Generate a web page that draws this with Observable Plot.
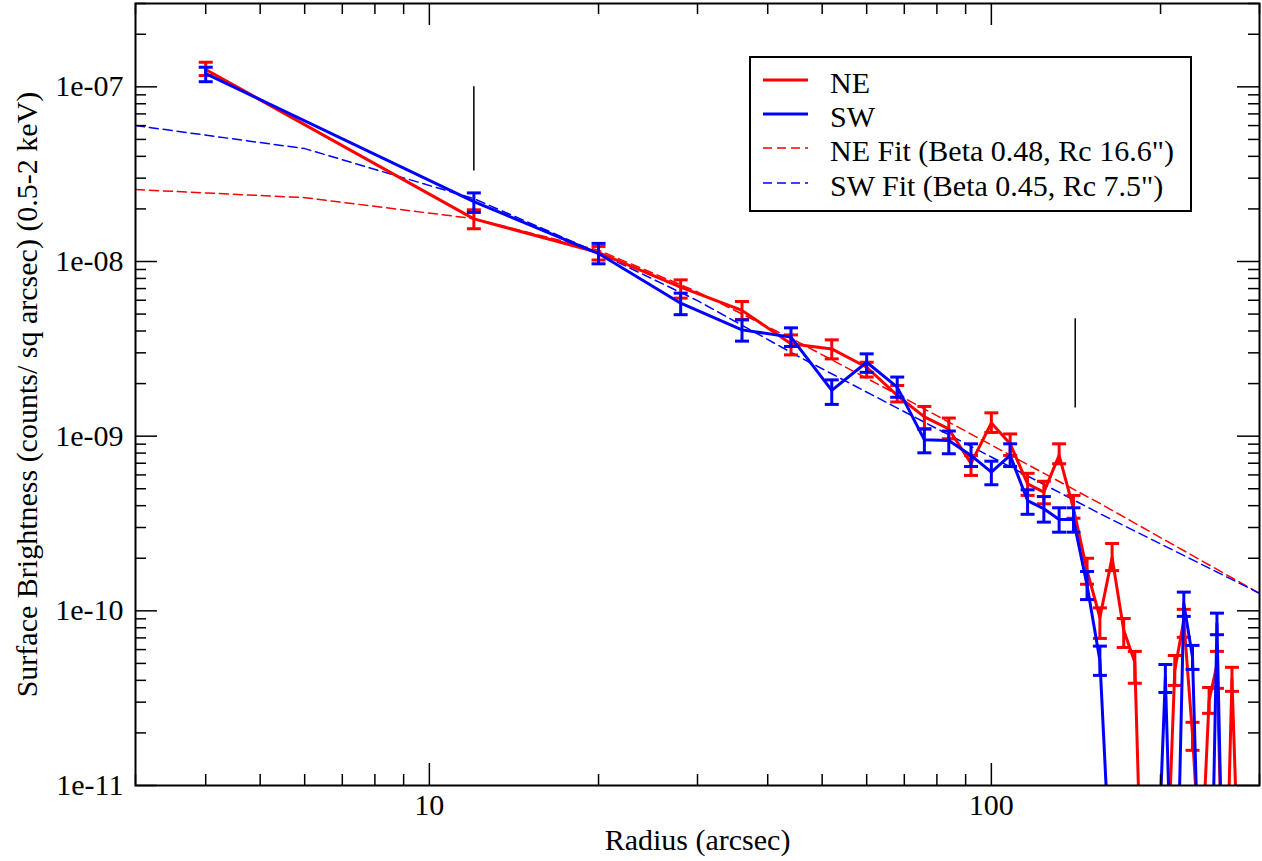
<!DOCTYPE html>
<html><head><meta charset="utf-8">
<script src="https://cdn.jsdelivr.net/npm/d3@7"></script>
<script src="https://cdn.jsdelivr.net/npm/@observablehq/plot@0.6"></script>
<style>body{margin:0;background:#fff}</style>
</head><body><div id="chart"></div>
<script>
// Radii (arcsec)
const radius = [4,12,20,28,36,44,52,60,68,76,84,92,100,108,116,124,132,140,148,156,164,172,180,188,196,204,212,220,228,236,244,252,260,268,276,284,292];

// NE profile (value, lower and upper error bar ends); tiny values are below the axis
const neValue = [1.256e-7,1.755e-8,1.125e-8,7.13e-9,5.25e-9,3.38e-9,3.16e-9,2.48e-9,1.71e-9,1.29e-9,1.10e-9,6.98e-10,1.19e-9,9.04e-10,5.33e-10,4.78e-10,7.76e-10,3.85e-10,1.70e-10,9.16e-11,2.02e-10,7.73e-11,5.07e-11,4e-13,1e-12,1.7e-12,4.56e-11,8.83e-11,1.94e-11,3e-12,3.07e-11,4.9e-11,1e-12,4.06e-11,2.3e-12,1e-12,1e-12];
const neLow   = [1.16e-7,1.54e-8,1.02e-8,6.17e-9,4.66e-9,2.92e-9,2.77e-9,2.18e-9,1.57e-9,1.10e-9,9.66e-10,5.96e-10,1.05e-9,7.76e-10,4.58e-10,4.10e-10,6.95e-10,3.39e-10,1.42e-10,6.95e-11,1.70e-10,6.17e-11,3.85e-11,null,null,null,3.74e-11,7.05e-11,1.59e-11,null,2.59e-11,3.6e-11,null,3.46e-11,null,null,null];
const neHigh  = [1.383e-7,1.977e-8,1.22e-8,7.85e-9,5.9e-9,3.8e-9,3.56e-9,2.65e-9,1.95e-9,1.48e-9,1.27e-9,7.76e-10,1.36e-9,1.03e-9,6.13e-10,5.52e-10,9.04e-10,4.58e-10,2.0e-10,1.04e-10,2.43e-10,9.04e-11,5.86e-11,null,null,null,5.55e-11,1.02e-10,2.30e-11,null,3.64e-11,5.86e-11,null,4.75e-11,null,null,null];

// SW profile
const swValue = [1.19e-7,2.20e-8,1.11e-8,5.77e-9,4.06e-9,3.69e-9,1.83e-9,2.65e-9,1.91e-9,9.53e-10,9.44e-10,7.76e-10,6.22e-10,7.76e-10,4.28e-10,3.84e-10,3.33e-10,3.33e-10,1.40e-10,5.2e-11,2e-12,1e-12,1e-12,1e-12,1.55e-12,4.16e-11,6e-13,1.10e-10,5.42e-11,1.1e-12,4e-13,8.47e-11,8e-13,1e-12,1e-12,1e-12,1e-12];
const swLow   = [1.07e-7,1.91e-8,9.7e-9,4.96e-9,3.5e-9,3.26e-9,1.52e-9,2.32e-9,1.67e-9,8.03e-10,7.93e-10,6.7e-10,5.27e-10,6.7e-10,3.57e-10,3.22e-10,2.82e-10,2.82e-10,1.16e-10,4.27e-11,null,null,null,null,null,3.41e-11,null,9.3e-11,4.62e-11,null,null,7.3e-11,null,null,null,null,null];
const swHigh  = [1.295e-7,2.47e-8,1.27e-8,6.59e-9,4.63e-9,4.17e-9,2.1e-9,2.96e-9,2.18e-9,1.10e-9,1.07e-9,9.04e-10,7.19e-10,9.04e-10,4.93e-10,4.51e-10,3.89e-10,3.89e-10,1.68e-10,6.28e-11,null,null,null,null,null,4.93e-11,null,1.28e-10,6.34e-11,null,null,9.7e-11,null,null,null,null,null];

// Beta-model fit curves
const fitRadius = [3,6,12,20,30,45,70,100,156,300];
const neFit = [2.58e-8,2.32e-8,1.76e-8,1.16e-8,6.7e-9,3.5e-9,1.65e-9,8.9e-10,4.12e-10,1.26e-10];
const swFit = [6.0e-8,4.43e-8,2.29e-8,1.12e-8,5.97e-9,2.9e-9,1.38e-9,7.6e-10,3.6e-10,1.26e-10];

// Vertical marker lines
const markerRadius = [12, 141];
const markerTop = [1.0e-7, 4.7e-9];
const markerBottom = [3.3e-8, 1.45e-9];

// Ticks
const xMajor = [10, 100];
const xMinor = [3,4,5,6,7,8,9,20,30,40,50,60,70,80,90,200,300];
const yMajor = [1e-11,1e-10,1e-9,1e-8,1e-7];
const yMinor = [2e-11,3e-11,4e-11,5e-11,6e-11,7e-11,8e-11,9e-11,
                2e-10,3e-10,4e-10,5e-10,6e-10,7e-10,8e-10,9e-10,
                2e-9,3e-9,4e-9,5e-9,6e-9,7e-9,8e-9,9e-9,
                2e-8,3e-8,4e-8,5e-8,6e-8,7e-8,8e-8,9e-8,
                2e-7,3e-7];

const legendItems = ["NE", "SW", "NE Fit (Beta 0.48, Rc 16.6\")", "SW Fit (Beta 0.45, Rc 7.5\")"];
const legendColors = ["#ff0000", "#0000ff", "#ff0000", "#0000ff"];
const legendDashed = [false, false, true, true];

const W = 1262, H = 861, ML = 135, MR = 3, MT = 3, MB = 76;
const PW = W - ML - MR, PH = H - MT - MB;
const FONT = "'Liberation Serif', 'Times New Roman', serif";
const RED = "#ff0000", BLUE = "#0000ff";

const ne = radius.map((r, i) => ({r, v: neValue[i], lo: neLow[i], hi: neHigh[i]}));
const sw = radius.map((r, i) => ({r, v: swValue[i], lo: swLow[i], hi: swHigh[i]}));
const neFitData = fitRadius.map((r, i) => ({r, v: neFit[i]}));
const swFitData = fitRadius.map((r, i) => ({r, v: swFit[i]}));
const markers = markerRadius.map((r, i) => ({r, y1: markerTop[i], y2: markerBottom[i]}));

const capSymbol = {draw(ctx, size) { const w = Math.sqrt(size / Math.PI); ctx.moveTo(-w, 0); ctx.lineTo(w, 0); }};
const yFmt = d => "1e-" + String(-Math.round(Math.log10(d))).padStart(2, "0");

function seriesMarks(data, color) {
  const withErr = data.filter(d => d.lo != null);
  return [
    Plot.line(data, {x: "r", y: "v", stroke: color, strokeWidth: 3, clip: true}),
    Plot.ruleX(withErr, {x: "r", y1: "lo", y2: "hi", stroke: color, strokeWidth: 3, clip: true}),
    Plot.dot(withErr, {x: "r", y: "lo", symbol: capSymbol, r: 7, stroke: color, strokeWidth: 3, fill: "none", clip: true}),
    Plot.dot(withErr, {x: "r", y: "hi", symbol: capSymbol, r: 7, stroke: color, strokeWidth: 3, fill: "none", clip: true})
  ];
}

const chart = Plot.plot({
  width: W, height: H,
  marginLeft: ML, marginRight: MR, marginTop: MT, marginBottom: MB,
  style: {fontFamily: FONT, fontSize: "30px", background: "#fff", color: "#000"},
  x: {type: "log", domain: [3, 300]},
  y: {type: "log", domain: [1e-11, 3e-7]},
  marks: [
    Plot.line(neFitData, {x: "r", y: "v", stroke: RED, strokeWidth: 1.5, strokeDasharray: "9,5", clip: true}),
    Plot.line(swFitData, {x: "r", y: "v", stroke: BLUE, strokeWidth: 1.5, strokeDasharray: "9,5", clip: true}),
    ...seriesMarks(ne, RED),
    ...seriesMarks(sw, BLUE),
    Plot.ruleX(markers, {x: "r", y1: "y1", y2: "y2", stroke: "#000", strokeWidth: 1.5}),
    // inward ticks on all four sides
    Plot.ruleX(xMajor, {x: d => d, insetTop: PH - 22, stroke: "#000", strokeWidth: 1.5}),
    Plot.ruleX(xMajor, {x: d => d, insetBottom: PH - 22, stroke: "#000", strokeWidth: 1.5}),
    Plot.ruleX(xMinor, {x: d => d, insetTop: PH - 11, stroke: "#000", strokeWidth: 1.5}),
    Plot.ruleX(xMinor, {x: d => d, insetBottom: PH - 11, stroke: "#000", strokeWidth: 1.5}),
    Plot.ruleY(yMajor, {y: d => d, insetRight: PW - 22, stroke: "#000", strokeWidth: 1.5}),
    Plot.ruleY(yMajor, {y: d => d, insetLeft: PW - 22, stroke: "#000", strokeWidth: 1.5}),
    Plot.ruleY(yMinor, {y: d => d, insetRight: PW - 11, stroke: "#000", strokeWidth: 1.5}),
    Plot.ruleY(yMinor, {y: d => d, insetLeft: PW - 11, stroke: "#000", strokeWidth: 1.5}),
    Plot.axisX({ticks: xMajor, tickSize: 0, tickPadding: 8, tickFormat: d => String(d), label: null, fontSize: 30}),
    Plot.axisY({ticks: yMajor, tickSize: 0, tickPadding: 12, tickFormat: yFmt, label: null, fontSize: 30}),
    Plot.text(["Radius (arcsec)"], {text: d => d, frameAnchor: "bottom", dy: 55, fontSize: 30, lineAnchor: "middle", textAnchor: "middle"}),
    Plot.text(["Surface Brightness (counts/ sq arcsec) (0.5-2 keV)"], {text: d => d, frameAnchor: "left", rotate: -90, dx: -108, fontSize: 30, lineAnchor: "middle", textAnchor: "middle"}),
    Plot.frame({stroke: "#000", strokeWidth: 2})
  ]
});
document.getElementById("chart").appendChild(chart);

// Legend box inside the plot
const svg = d3.select(chart);
const lg = svg.append("g").attr("font-family", FONT).attr("font-size", 30).attr("text-anchor", "start");
lg.append("rect").attr("x", 750).attr("y", 57).attr("width", 441).attr("height", 154)
  .attr("fill", "#fff").attr("stroke", "#000").attr("stroke-width", 2);
const rowY = [80, 114, 148, 183];
legendItems.forEach((t, i) => {
  lg.append("line").attr("x1", 763).attr("x2", 808).attr("y1", rowY[i]).attr("y2", rowY[i])
    .attr("stroke", legendColors[i]).attr("stroke-width", legendDashed[i] ? 1.5 : 3)
    .attr("stroke-dasharray", legendDashed[i] ? "9,5" : null);
  lg.append("text").attr("x", 830).attr("y", rowY[i] + 2).attr("dominant-baseline", "central")
    .attr("text-anchor", "start").attr("fill", "#000").text(t);
});
</script>
</body></html>
